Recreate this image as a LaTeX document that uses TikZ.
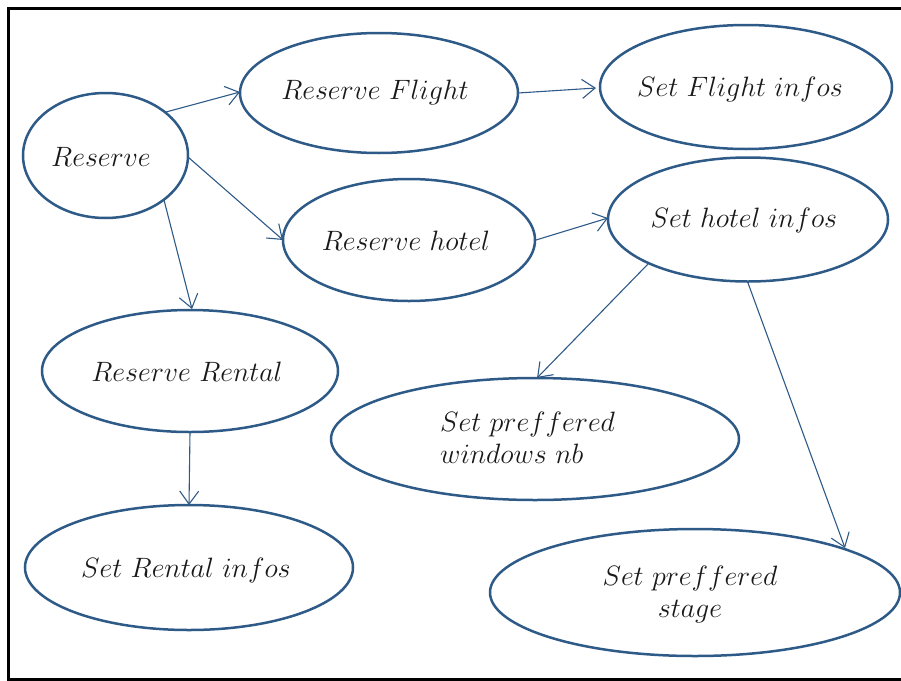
\RequirePackage{fix-cm}
\documentclass[tikz,border=0pt]{standalone}
\usetikzlibrary{arrows.meta,shapes.geometric}
\definecolor{edge}{HTML}{2E5A88}
\tikzset{
  uc/.style={draw=edge, line width=2.5pt, ellipse, inner sep=0pt},
  conn/.style={draw=edge, line width=1.1pt, -{Straight Barb[length=13pt,width=19pt,line width=1.1pt]}},
  lbl/.style={font=\fontsize{28}{32}\selectfont, align=center, inner sep=0pt, text=black!90},
}
\begin{document}
\begin{tikzpicture}[x=1pt,y=-1pt]
\useasboundingbox (0,0) rectangle (901,680);
\draw[line width=3pt, black] (901,8) -- (8.5,8) -- (8.5,679) -- (901,679);
\newcommand{\ucnode}[5]{\node[uc, minimum width=#4pt, minimum height=#5pt] (#1) at (#2,#3) {};}
\ucnode{res}{105.5}{155.5}{165}{125}
\ucnode{rf}{379}{93}{278}{120}
\ucnode{sf}{746}{87}{292}{124}
\ucnode{rh}{409}{240}{252}{122}
\ucnode{sh}{748}{219.5}{280}{124}
\ucnode{rr}{190}{371}{296}{122}
\ucnode{sw}{535}{439}{408}{122}
\ucnode{sr}{189}{567.5}{328}{125}
\ucnode{ss}{695}{592.5}{410}{127}
% texts
\node[lbl] (tres) at (101,157) {$Reserve$};
\node[lbl] (trf) at (375,92) {$Reserve\ Flight$};
\node[lbl] (tsf) at (740,89) {$Set\ Flight\ infos$};
\node[lbl] (trh) at (406,241) {$Reserve\ hotel$};
\node[lbl] (tsh) at (744,220) {$Set\ hotel\ infos$};
\node[lbl] (trr) at (187,372) {$Reserve\ Rental$};
\node[lbl, align=left, anchor=west] (tsw) at (440,438) {$Set\ preffered$\\$windows\ nb$};
\node[lbl] (tsr) at (186,570) {$Set\ Rental\ infos$};
\node[lbl] (tss) at (690,594) {$Set\ preffered$\\$stage$};
% connectors
\coordinate (a1) at (166,112); \coordinate (b1) at (240,92);
\coordinate (a2) at (188,157); \coordinate (b2) at (283,240);
\coordinate (a3) at (164,200); \coordinate (b3) at (192,309);
\coordinate (a4) at (518,93);  \coordinate (b4) at (596,88);
\coordinate (a5) at (536,240); \coordinate (b5) at (608,218);
\coordinate (a6) at (648,264); \coordinate (b6) at (537,378);
\coordinate (a7) at (748,283); \coordinate (b7) at (845,548);
\coordinate (a8) at (190,432); \coordinate (b8) at (189,505);
\draw[conn] (a1) -- (b1);
\draw[conn] (a2) -- (b2);
\draw[conn] (a3) -- (b3);
\draw[conn] (a4) -- (b4);
\draw[conn] (a5) -- (b5);
\draw[conn] (a6) -- (b6);
\draw[conn] (a7) -- (b7);
\draw[conn] (a8) -- (b8);
\end{tikzpicture}
\end{document}
